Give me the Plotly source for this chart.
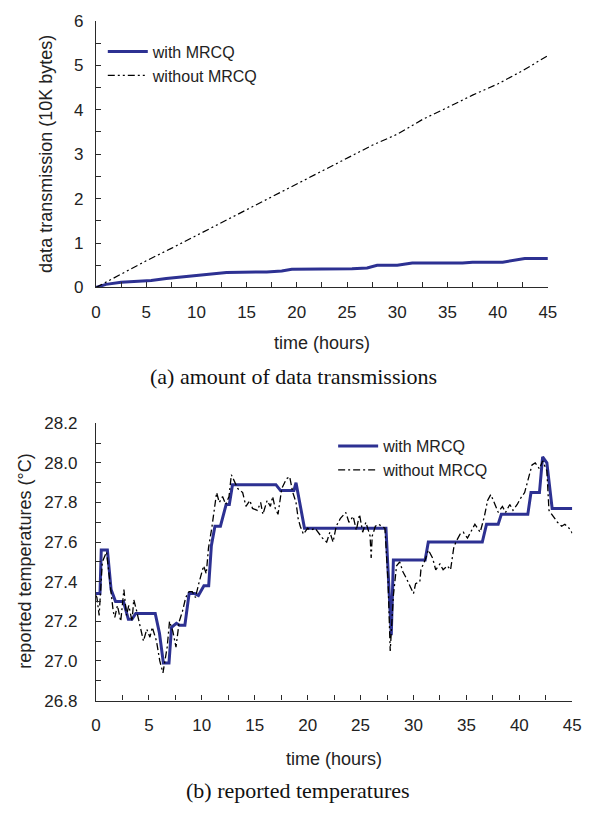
import plotly.graph_objects as go

W, H = 592, 817
OFF = 8  # default page margin of the html body

# ---------------- data: (a) amount of data transmissions ----------------
hours_a_without = [0, 2.5, 5, 7.5, 10, 12.5, 15, 17.5, 20, 22.5, 25, 27.5, 30, 32.5, 35, 37.5, 40, 42.5, 45]
data_without = [0, 0.3, 0.6, 0.88, 1.17, 1.47, 1.75, 2.05, 2.33, 2.62, 2.92, 3.2, 3.45, 3.78, 4.05,
                4.33, 4.58, 4.88, 5.22]

hours_a_with = [0, 1, 2.5, 4.5, 5.5, 7, 8, 9.5, 10.5, 12, 13, 17, 18.5, 19.5, 25.5, 27, 28, 30,
                30.8, 31.5, 36.5, 37.5, 40.5, 42, 42.7, 45]
data_with = [0, 0.07, 0.12, 0.15, 0.16, 0.2, 0.23, 0.26, 0.28, 0.31, 0.34, 0.35, 0.37, 0.41, 0.42,
             0.44, 0.5, 0.5, 0.53, 0.55, 0.55, 0.57, 0.57, 0.62, 0.65, 0.65]

# ---------------- data: (b) reported temperatures ----------------
hours_b_with = [0, 0.38, 0.5, 1.08, 1.43, 1.85, 2.6, 3.06, 3.4, 3.76, 5.6, 6.0, 6.37, 6.9, 7.14, 7.6,
                7.9, 8.4, 8.8, 9.33, 9.68, 10.2, 10.65, 10.9, 11.24, 11.76, 12.3, 12.6, 12.9, 17.0,
                17.44, 18.7, 18.9, 19.25, 19.7, 27.4, 27.9, 28.1, 31.1, 31.4, 36.5, 36.9, 38.0, 38.3,
                40.8, 41.1, 41.9, 42.2, 42.6, 43.1, 45]
temp_with = [27.34, 27.34, 27.56, 27.56, 27.36, 27.30, 27.30, 27.21, 27.21, 27.24, 27.24, 27.14,
             26.99, 26.99, 27.17, 27.19, 27.18, 27.18, 27.34, 27.34, 27.33, 27.38, 27.38, 27.58,
             27.68, 27.68, 27.79, 27.79, 27.89, 27.89, 27.86, 27.86, 27.90, 27.80, 27.67, 27.67,
             27.13, 27.51, 27.51, 27.60, 27.60, 27.69, 27.69, 27.74, 27.74, 27.85, 27.85, 28.03,
             28.00, 27.77, 27.77]

hours_b_without = [0, 0.09, 0.3, 0.6, 1.0, 1.41, 1.63, 1.78, 2.03, 2.34, 2.64, 2.89, 3.1, 3.41, 3.57,
                   3.81, 4.18, 4.49, 4.8, 5.1, 5.32, 5.72, 6.03, 6.33, 6.73, 6.95, 7.26, 7.56, 7.87,
                   8.17, 8.48, 8.79, 9.1, 9.4, 9.71, 10.17, 10.42, 10.63, 10.94, 11.25, 11.4, 11.65,
                   11.96, 12.26, 12.57, 12.79, 13.4, 13.86, 14.17, 14.54, 14.79, 15.25, 15.56, 15.77,
                   16.17, 16.48, 16.69, 16.94, 17.2, 17.55, 18.0, 18.3, 18.6, 18.9, 19.1, 19.3, 19.6,
                   20.0, 20.3, 20.7, 21.1, 21.4, 21.8, 22.1, 22.4, 22.7, 23.1, 23.6, 23.9, 24.3, 24.6,
                   24.9, 25.2, 25.5, 25.9, 26.0, 26.1, 26.4, 26.7, 27.3, 27.6, 27.8, 28.1, 28.4, 28.7,
                   29.0, 29.3, 29.7, 30.0, 30.2, 30.6, 30.7, 31.1, 31.4, 31.8, 32.1, 32.5, 32.8, 33.2,
                   33.5, 33.8, 34.0, 34.4, 34.7, 35.1, 35.4, 35.8, 36.3, 36.7, 37.0, 37.3, 37.7, 38.0,
                   38.4, 38.7, 39.1, 39.4, 39.8, 40.1, 40.5, 40.8, 41.2, 41.5, 41.9, 42.2, 42.6, 42.8,
                   43.3, 43.6, 44.0, 44.3, 44.7, 45]
temp_without = [27.33, 27.32, 27.23, 27.50, 27.55, 27.37, 27.25, 27.22, 27.28, 27.20, 27.36, 27.23,
                27.28, 27.20, 27.31, 27.26, 27.18, 27.10, 27.16, 27.12, 27.17, 27.10, 27.00, 26.94,
                27.07, 27.20, 27.15, 27.07, 27.20, 27.25, 27.32, 27.35, 27.35, 27.32, 27.39, 27.48,
                27.44, 27.57, 27.67, 27.81, 27.85, 27.80, 27.83, 27.79, 27.83, 27.94, 27.87, 27.85,
                27.78, 27.81, 27.77, 27.76, 27.80, 27.74, 27.81, 27.78, 27.83, 27.77, 27.74, 27.87,
                27.92, 27.93, 27.85, 27.80, 27.72, 27.68, 27.64, 27.67, 27.66, 27.67, 27.64, 27.62,
                27.60, 27.65, 27.60, 27.68, 27.72, 27.75, 27.70, 27.73, 27.66, 27.74, 27.65, 27.70,
                27.63, 27.52, 27.63, 27.68, 27.69, 27.67, 27.40, 27.05, 27.33, 27.48, 27.50, 27.45,
                27.42, 27.37, 27.34, 27.39, 27.40, 27.46, 27.51, 27.56, 27.52, 27.46, 27.49, 27.46,
                27.48, 27.46, 27.57, 27.60, 27.64, 27.65, 27.62, 27.65, 27.69, 27.65, 27.73, 27.81,
                27.84, 27.79, 27.75, 27.78, 27.75, 27.79, 27.76, 27.79, 27.82, 27.85, 27.91, 27.99,
                28.00, 27.97, 28.01, 27.96, 27.76, 27.72, 27.70, 27.68, 27.69, 27.67, 27.645]

x_ticks = [0, 5, 10, 15, 20, 25, 30, 35, 40, 45]

BLUE = "#2d3192"
AXC = "#2a2a2a"
TXT = "#222222"
SANS = "Liberation Sans, Arial, sans-serif"
SERIF = "Liberation Serif, Times New Roman, serif"

FW, FH = W - OFF, H - OFF

fig = go.Figure()

fig.add_trace(go.Scatter(x=hours_a_with, y=data_with, mode="lines", name="with MRCQ",
                         line=dict(color=BLUE, width=3), xaxis="x", yaxis="y", legend="legend"))
fig.add_trace(go.Scatter(x=hours_a_without, y=data_without, mode="lines", name="without MRCQ",
                         line=dict(color="black", width=1.2, dash="7px,3px,2px,3px,2px,3px"),
                         xaxis="x", yaxis="y", legend="legend"))
fig.add_trace(go.Scatter(x=hours_b_with, y=temp_with, mode="lines", name="with MRCQ",
                         line=dict(color=BLUE, width=3), xaxis="x2", yaxis="y2", legend="legend2"))
fig.add_trace(go.Scatter(x=hours_b_without, y=temp_without, mode="lines", name="without MRCQ",
                         line=dict(color="black", width=1.3, dash="7px,3px,2px,3px"),
                         xaxis="x2", yaxis="y2", legend="legend2"))


def px_x(p):
    return (p - OFF) / FW


def px_y(p):
    return 1 - (p - OFF) / FH


common_axis = dict(showline=True, linecolor=AXC, linewidth=1.4, ticks="inside", ticklen=5,
                   tickcolor=AXC, tickwidth=1, showgrid=False, zeroline=False,
                   tickfont=dict(family=SANS, size=17, color=TXT), mirror=False)

fig.update_layout(
    width=FW, height=FH, margin=dict(l=0, r=0, t=0, b=0),
    paper_bgcolor="white", plot_bgcolor="white",
    xaxis=dict(domain=[px_x(93), px_x(556)], range=[0, 45], tickvals=x_ticks, anchor="y",
               minor=dict(dtick=2.5, tick0=0, ticks="inside", ticklen=5, tickcolor=AXC, showgrid=False),
               ticklabelstandoff=9, **common_axis),
    yaxis=dict(domain=[px_y(285), px_y(12)], range=[0, 6], dtick=1, anchor="x",
               minor=dict(dtick=0.5, ticks="inside", ticklen=5, tickcolor=AXC, showgrid=False),
               ticklabelstandoff=8, **common_axis),
    xaxis2=dict(domain=[px_x(93), px_x(581)], range=[0, 45], tickvals=x_ticks, anchor="y2",
                minor=dict(dtick=2.5, tick0=0, ticks="inside", ticklen=5, tickcolor=AXC, showgrid=False),
                ticklabelstandoff=9, **common_axis),
    yaxis2=dict(domain=[px_y(708), px_y(424)], range=[26.8, 28.2], dtick=0.2, tick0=26.8,
                tickformat=".1f", anchor="x2",
                minor=dict(dtick=0.1, ticks="inside", ticklen=5, tickcolor=AXC, showgrid=False),
                ticklabelstandoff=14, **common_axis),
    legend=dict(x=px_x(100), y=px_y(26), xanchor="left", yanchor="top", bgcolor="rgba(0,0,0,0)",
                font=dict(family=SANS, size=16, color=TXT), tracegroupgap=0, itemwidth=40),
    legend2=dict(x=px_x(336), y=px_y(430), xanchor="left", yanchor="top", bgcolor="rgba(0,0,0,0)",
                 font=dict(family=SANS, size=16, color=TXT), tracegroupgap=0, itemwidth=40),
    showlegend=True,
)

ann = [
    dict(text="time (hours)", x=(px_x(93) + px_x(556)) / 2, y=px_y(342), font=dict(family=SANS, size=18, color=TXT)),
    dict(text="time (hours)", x=(px_x(93) + px_x(581)) / 2, y=px_y(768), font=dict(family=SANS, size=18, color=TXT)),
    dict(text="(a) amount of data transmissions", x=px_x(295), y=px_y(376), font=dict(family=SERIF, size=22, color="#111")),
    dict(text="(b) reported temperatures", x=px_x(300), y=px_y(800), font=dict(family=SERIF, size=22, color="#111")),
    dict(text="data transmission (10K bytes)", x=px_x(42), y=px_y(148), textangle=-90,
         font=dict(family=SANS, size=18, color=TXT)),
    dict(text="reported temperatures (°C)", x=px_x(20), y=px_y(565), textangle=-90,
         font=dict(family=SANS, size=18, color=TXT)),
]
for a in ann:
    a.update(xref="paper", yref="paper", showarrow=False, xanchor="center", yanchor="middle")
fig.update_layout(annotations=ann)

fig.write_html("out.html")
